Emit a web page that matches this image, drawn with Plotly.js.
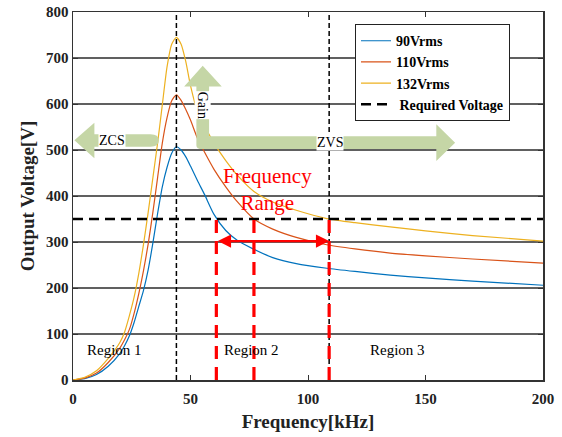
<!DOCTYPE html>
<html>
<head>
<meta charset="utf-8">
<script src="https://cdn.plot.ly/plotly-3.0.1.min.js"></script>
<style>html,body{margin:0;padding:0;background:#fff;}#chart{width:562px;height:437px;}</style>
</head>
<body>
<div id="chart"></div>
<script>
// ---- data ----
const freq = [0,5,10,15,20,22,24,26,28,30,32,34,36,38,40,42,44,46,48,50,53,56,60,65,70,77,85,95,108,120,135,150,170,200];
const v90  = [0,3,12,30,58,75,96,125,160,195,240,298,362,420,462,493,507,500,485,465,433,403,360,325,303,284,266,253,243,236,228,222,215,206];
const v110 = [0,4,15,38,70,88,110,145,188,238,296,365,440,515,570,607,620,608,588,565,525,495,458,420,387,350,328,310,294,285,276,270,263,254];
const v132 = [0,6,20,47,82,105,140,180,232,295,365,440,515,598,680,730,745,730,692,640,583,552,515,477,445,410,387,369,351,342,333,324,314,302];
const seriesNames = ['90Vrms','110Vrms','132Vrms'];
const requiredVoltage = 350;
const requiredName = ' Required Voltage';
const regionBoundaries = [44, 109];
const rangeFreqs = [61, 77, 109];
const rangeArrowVoltage = 302;
const xTicks = [0,50,100,150,200];
const yTicks = [0,100,200,300,400,500,600,700,800];
const regionLabels = ['Region 1','Region 2','Region 3'];
const regionLabelX = [17.5, 76, 138];
const regionLabelY = 65;

const colors = ['#0072BD','#D95319','#EDB120'];
const serif = 'Liberation Serif';

const traces = [v90, v110, v132].map((v,i)=>({
  x: freq, y: v, type:'scatter', mode:'lines', name: seriesNames[i],
  line:{color: colors[i], width:1.2, shape:'spline', smoothing:0.6}
}));
traces.push({
  x:[xTicks[0], xTicks[xTicks.length-1]], y:[requiredVoltage, requiredVoltage],
  type:'scatter', mode:'lines', name: requiredName,
  line:{color:'#000', width:2.5, dash:'10px,6px'}
});

const green = '#c5d6a6';
const shapes = [];
regionBoundaries.forEach(f=>shapes.push({type:'line', xref:'x', yref:'y', x0:f, x1:f, y0:0, y1:800,
  line:{color:'#000', width:1.5, dash:'5px,3px'}, layer:'above'}));
rangeFreqs.forEach(f=>shapes.push({type:'line', xref:'x', yref:'y', x0:f, x1:f, y0:0, y1:requiredVoltage,
  line:{color:'#ff0000', width:3.2, dash:'13px,8px'}, layer:'above'}));
shapes.push({type:'path', xref:'x', yref:'y', layer:'above', fillcolor:green, line:{width:0},
  path:'M 0.6,521 L 9.1,559 L 9.1,534 L 33,534 Q 36.5,534 36.5,520.5 Q 36.5,507 33,507 L 9.1,507 L 9.1,482 Z'});
shapes.push({type:'path', xref:'x', yref:'y', layer:'above', fillcolor:green, line:{width:0},
  path:'M 55.2,683 L 63.3,638 L 57.9,638 L 57.9,530 L 154.6,530 L 154.6,556 L 162.6,516 L 154.6,476 L 154.6,502 L 55,502 Q 52.5,502 52.5,510 L 52.5,638 L 47.3,638 Z'});

const annotations = [];
annotations.push({x:rangeFreqs[2], y:rangeArrowVoltage, ax:rangeFreqs[0], ay:rangeArrowVoltage, axref:'x', ayref:'y',
  xref:'x', yref:'y', text:'', showarrow:true, arrowside:'end+start', arrowhead:2, arrowsize:1.2, arrowwidth:2.2, arrowcolor:'#ff0000',
  standoff:0, startstandoff:0});
annotations.push({x:82.6, y:415, xref:'x', yref:'y', text:'Frequency<br>Range', showarrow:false,
  font:{family:serif, size:21, color:'#ff0000'}, align:'center'});
annotations.push({x:16.8, y:520, xref:'x', yref:'y', text:'ZCS', showarrow:false, bgcolor:'#fff', borderpad:0,
  font:{family:serif, size:14, color:'#000'}});
annotations.push({x:109.3, y:516, xref:'x', yref:'y', text:'ZVS', showarrow:false, bgcolor:'#fff', borderpad:0,
  font:{family:serif, size:14, color:'#000'}});
annotations.push({x:55, y:598, xref:'x', yref:'y', text:'Gain', showarrow:false, bgcolor:'#fff', borderpad:0, textangle:90,
  font:{family:serif, size:14, color:'#000'}});
regionLabels.forEach((t,i)=>annotations.push({x:regionLabelX[i], y:regionLabelY, xref:'x', yref:'y', text:t, showarrow:false,
  font:{family:serif, size:15, color:'#000'}}));

const axisCommon = {
  showline:true, linecolor:'#333', linewidth:1.5, mirror:'ticks', ticks:'inside', ticklen:5, tickcolor:'#333',
  zeroline:false
};

const layout = {
  width:562, height:437,
  font:{family:serif, color:'#222'},
  margin:{l:73, r:19, t:12, b:57},
  paper_bgcolor:'#fff', plot_bgcolor:'#fff',
  showlegend:true,
  legend:{x:0.6, y:0.967, xanchor:'left', yanchor:'top', bgcolor:'#fff', bordercolor:'#222', borderwidth:1,
    font:{family:serif, size:14, color:'#000', weight:'bold'}, tracegroupgap:0, itemwidth:30},
  xaxis: Object.assign({}, axisCommon, {range:[0,200], tickvals:xTicks, ticktext:xTicks.map(String), showgrid:false,
    ticklabelstandoff:4,
    tickfont:{family:serif, size:15, color:'#222', weight:'bold'},
    title:{text:'Frequency[kHz]', font:{family:serif, size:19, color:'#222', weight:'bold'}, standoff:9}}),
  yaxis: Object.assign({}, axisCommon, {range:[0,800], tickvals:yTicks, ticktext:yTicks.map(String), showgrid:true,
    gridcolor:'#606060', gridwidth:1.5,
    tickfont:{family:serif, size:15, color:'#222', weight:'bold'},
    title:{text:'Output Voltage[V]', font:{family:serif, size:19, color:'#222', weight:'bold'}, standoff:6}}),
  shapes: shapes,
  annotations: annotations
};

Plotly.newPlot('chart', traces, layout, {staticPlot:true, displayModeBar:false});
</script>
</body>
</html>
